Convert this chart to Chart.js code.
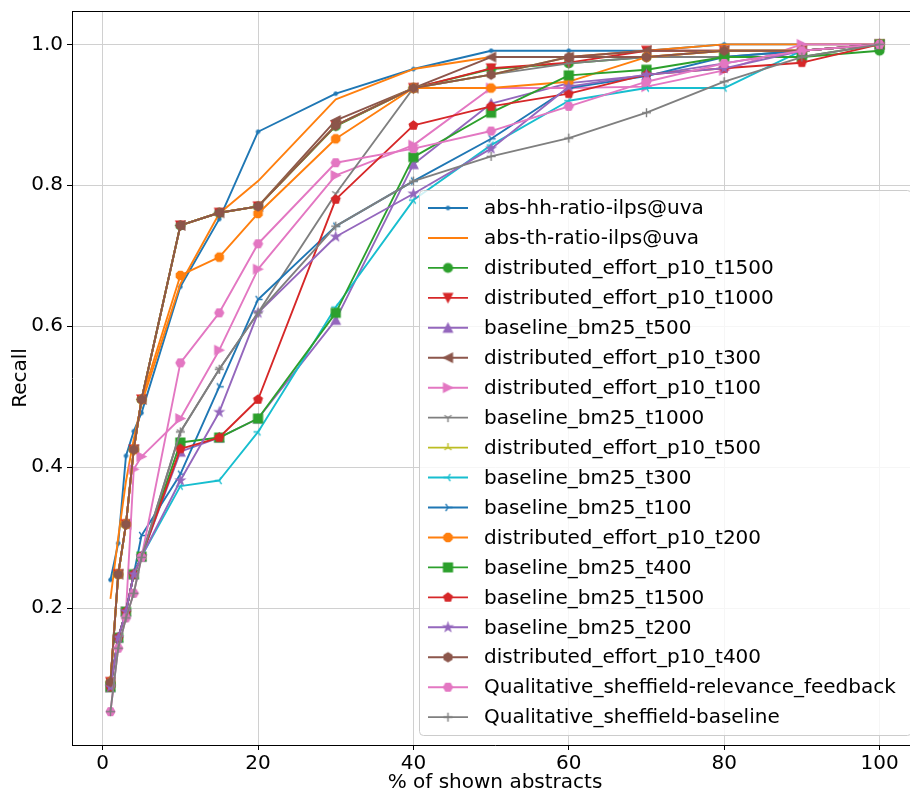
<!DOCTYPE html>
<html>
<head>
<meta charset="utf-8">
<script src="https://cdn.jsdelivr.net/npm/chart.js@4"></script>
<style>
  html, body { margin: 0; padding: 0; background: #fff; overflow: hidden; }
  canvas { display: block; }
</style>
</head>
<body>
<canvas id="recallChart" width="930" height="795"></canvas>
<script>
// % of shown abstracts (x) and recall per run
const shownPct = [1, 2, 3, 4, 5, 10, 15, 20, 30, 40, 50, 60, 70, 80, 90, 100];
const xTicks = [0, 20, 40, 60, 80, 100];
const yTicks = [0.2, 0.4, 0.6, 0.8, 1.0];

const absHhRatio = [0.240, 0.292, 0.416, 0.451, 0.477, 0.656, 0.752, 0.876, 0.930, 0.965, 0.991, 0.991, 0.991, 1.0, 1.0, 1.0];
const absThRatio = [0.213, 0.300, 0.380, 0.440, 0.490, 0.660, 0.760, 0.806, 0.922, 0.965, 0.982, 0.982, 0.991, 1.0, 1.0, 1.0];
const deT1500 = [0.095, 0.248, 0.319, 0.425, 0.496, 0.743, 0.761, 0.770, 0.884, 0.938, 0.965, 0.973, 0.982, 0.982, 0.982, 0.991];
const deT1000 = [0.095, 0.248, 0.319, 0.425, 0.496, 0.743, 0.761, 0.770, 0.885, 0.938, 0.966, 0.974, 0.991, 0.991, 0.991, 1.0];
const bmT500 = [0.088, 0.158, 0.195, 0.248, 0.273, 0.422, 0.442, 0.469, 0.609, 0.830, 0.916, 0.945, 0.956, 0.973, 0.991, 1.0];
const deT300 = [0.095, 0.248, 0.319, 0.425, 0.496, 0.743, 0.761, 0.770, 0.892, 0.938, 0.982, 0.982, 0.991, 0.991, 0.991, 1.0];
const deT100 = [0.088, 0.158, 0.195, 0.397, 0.415, 0.469, 0.566, 0.681, 0.814, 0.857, 0.938, 0.938, 0.940, 0.963, 1.0, 1.0];
const bmT1000 = [0.088, 0.158, 0.195, 0.248, 0.273, 0.450, 0.539, 0.619, 0.788, 0.938, 0.957, 0.973, 0.982, 0.982, 0.991, 1.0];
const deT500 = [0.095, 0.248, 0.319, 0.425, 0.496, 0.743, 0.761, 0.770, 0.885, 0.938, 0.957, 0.982, 0.982, 0.991, 0.991, 1.0];
const bmT300 = [0.088, 0.158, 0.195, 0.248, 0.273, 0.373, 0.381, 0.450, 0.627, 0.779, 0.857, 0.920, 0.938, 0.938, 0.991, 1.0];
const bmT100 = [0.088, 0.158, 0.195, 0.248, 0.303, 0.390, 0.514, 0.638, 0.742, 0.806, 0.866, 0.938, 0.955, 0.982, 0.991, 1.0];
const deT200 = [0.095, 0.248, 0.319, 0.425, 0.496, 0.672, 0.698, 0.760, 0.866, 0.938, 0.938, 0.947, 0.982, 0.991, 0.991, 1.0];
const bmT400 = [0.088, 0.158, 0.195, 0.248, 0.273, 0.435, 0.442, 0.469, 0.619, 0.840, 0.903, 0.956, 0.964, 0.982, 0.982, 1.0];
const bmT1500 = [0.088, 0.158, 0.195, 0.248, 0.273, 0.426, 0.442, 0.496, 0.780, 0.885, 0.912, 0.930, 0.957, 0.966, 0.974, 1.0];
const bmT200 = [0.088, 0.158, 0.195, 0.248, 0.273, 0.381, 0.478, 0.619, 0.727, 0.788, 0.852, 0.940, 0.957, 0.966, 0.991, 1.0];
const deT400 = [0.095, 0.248, 0.319, 0.425, 0.496, 0.743, 0.761, 0.770, 0.885, 0.938, 0.957, 0.982, 0.982, 0.991, 0.991, 1.0];
const sheffieldRf = [0.053, 0.143, 0.186, 0.221, 0.272, 0.548, 0.619, 0.717, 0.832, 0.852, 0.877, 0.912, 0.947, 0.973, 0.991, 1.0];
const sheffieldBase = [0.053, 0.143, 0.186, 0.221, 0.272, 0.450, 0.539, 0.619, 0.742, 0.806, 0.841, 0.867, 0.903, 0.947, 0.982, 1.0];

const runNames = [
  'abs-hh-ratio-ilps@uva', 'abs-th-ratio-ilps@uva', 'distributed_effort_p10_t1500',
  'distributed_effort_p10_t1000', 'baseline_bm25_t500', 'distributed_effort_p10_t300',
  'distributed_effort_p10_t100', 'baseline_bm25_t1000', 'distributed_effort_p10_t500',
  'baseline_bm25_t300', 'baseline_bm25_t100', 'distributed_effort_p10_t200',
  'baseline_bm25_t400', 'baseline_bm25_t1500', 'baseline_bm25_t200',
  'distributed_effort_p10_t400', 'Qualitative_sheffield-relevance_feedback', 'Qualitative_sheffield-baseline'
];
const runValues = [absHhRatio, absThRatio, deT1500, deT1000, bmT500, deT300, deT100, bmT1000, deT500,
  bmT300, bmT100, deT200, bmT400, bmT1500, bmT200, deT400, sheffieldRf, sheffieldBase];
const runMarkers = ['.', ',', 'o', 'v', '^', '<', '>', '1', '2', '3', '4', '8', 's', 'p', '*', 'h', 'H', '+'];
const palette = ['#1f77b4', '#ff7f0e', '#2ca02c', '#d62728', '#9467bd', '#8c564b', '#e377c2', '#7f7f7f', '#bcbd22', '#17becf'];

const FONT = "'DejaVu Sans', sans-serif";
const MS = 9;

// small canvases that look like matplotlib markers
function makeMarker(kind, color, m) {
  const s = Math.ceil(m + 6);
  const c = document.createElement('canvas');
  c.width = s; c.height = s;
  const g = c.getContext('2d');
  g.translate(s / 2, s / 2);
  g.fillStyle = color;
  g.strokeStyle = color;
  g.lineWidth = 1.2;
  g.lineJoin = 'miter';
  const r = m / 2;
  const poly = pts => {
    g.beginPath();
    pts.forEach(([x, y], i) => i ? g.lineTo(x * r, -y * r) : g.moveTo(x * r, -y * r));
    g.closePath(); g.fill(); g.stroke();
  };
  const regular = (n, rot) => {
    const p = [];
    for (let i = 0; i < n; i++) {
      const a = Math.PI / 2 + rot + 2 * Math.PI * i / n;
      p.push([Math.cos(a), Math.sin(a)]);
    }
    poly(p);
  };
  const lines = segs => {
    g.beginPath();
    segs.forEach(([x, y]) => { g.moveTo(0, 0); g.lineTo(x * r, -y * r); });
    g.lineWidth = 1.4; g.stroke();
  };
  switch (kind) {
    case '.': g.beginPath(); g.arc(0, 0, r / 2, 0, 2 * Math.PI); g.fill(); break;
    case 'o': g.beginPath(); g.arc(0, 0, r, 0, 2 * Math.PI); g.fill(); g.stroke(); break;
    case 'v': poly([[0, -1], [-1, 1], [1, 1]]); break;
    case '^': poly([[0, 1], [-1, -1], [1, -1]]); break;
    case '<': poly([[-1, 0], [1, -1], [1, 1]]); break;
    case '>': poly([[1, 0], [-1, -1], [-1, 1]]); break;
    case 's': poly([[-1, -1], [1, -1], [1, 1], [-1, 1]]); break;
    case 'p': regular(5, 0); break;
    case 'h': regular(6, 0); break;
    case 'H': regular(6, Math.PI / 6); break;
    case '8': regular(8, Math.PI / 8); break;
    case '*': {
      const p = [];
      for (let i = 0; i < 10; i++) {
        const a = Math.PI / 2 + Math.PI * i / 5;
        const rr = i % 2 ? 0.381966 : 1;
        p.push([rr * Math.cos(a), rr * Math.sin(a)]);
      }
      poly(p);
      break;
    }
    case '1': lines([[0, -1], [0.8, 0.5], [-0.8, 0.5]]); break;
    case '2': lines([[0, 1], [0.8, -0.5], [-0.8, -0.5]]); break;
    case '3': lines([[-1, 0], [0.5, -0.8], [0.5, 0.8]]); break;
    case '4': lines([[1, 0], [-0.5, -0.8], [-0.5, 0.8]]); break;
    case '+': lines([[1, 0], [-1, 0], [0, 1], [0, -1]]); break;
  }
  return c;
}

const datasets = runNames.map((name, i) => {
  const color = palette[i % 10];
  const kind = runMarkers[i];
  return {
    label: name,
    data: shownPct.map((x, j) => ({ x: x, y: runValues[i][j] })),
    borderColor: color,
    backgroundColor: color,
    borderWidth: 1.9,
    borderJoinStyle: 'round',
    tension: 0,
    pointStyle: kind === ',' ? 'circle' : makeMarker(kind, color, MS),
    pointRadius: kind === ',' ? 0 : 4,
    order: runNames.length - i
  };
});

const frameAndLegend = {
  id: 'frameAndLegend',
  afterDraw(chart) {
    const ctx = chart.ctx;
    const a = chart.chartArea;
    ctx.save();
    // top / right spines
    ctx.strokeStyle = '#000';
    ctx.lineWidth = 1;
    ctx.beginPath();
    ctx.moveTo(a.left, a.top + 0.5);
    ctx.lineTo(a.right, a.top + 0.5);
    ctx.moveTo(a.right - 0.5, a.top);
    ctx.lineTo(a.right - 0.5, a.bottom);
    ctx.stroke();

    // legend box
    const bx = 419.5, by = 190.5, bw = 492, bh = 545, rad = 4;
    ctx.beginPath();
    ctx.moveTo(bx + rad, by);
    ctx.arcTo(bx + bw, by, bx + bw, by + bh, rad);
    ctx.arcTo(bx + bw, by + bh, bx, by + bh, rad);
    ctx.arcTo(bx, by + bh, bx, by, rad);
    ctx.arcTo(bx, by, bx + bw, by, rad);
    ctx.closePath();
    ctx.fillStyle = 'rgba(255,255,255,0.8)';
    ctx.fill();
    ctx.strokeStyle = '#cccccc';
    ctx.stroke();

    ctx.font = '20px ' + FONT;
    ctx.textBaseline = 'middle';
    ctx.textAlign = 'left';
    chart.data.datasets.forEach((ds, i) => {
      const y = 208 + i * 29.95;
      ctx.strokeStyle = ds.borderColor;
      ctx.lineWidth = 1.9;
      ctx.beginPath();
      ctx.moveTo(428, y);
      ctx.lineTo(468, y);
      ctx.stroke();
      const st = ds.pointStyle;
      if (ds.pointRadius > 0 && typeof st === 'object') {
        ctx.drawImage(st, 448 - st.width / 2, y - st.height / 2);
      }
      ctx.fillStyle = '#000';
      ctx.fillText(ds.label, 484, y + 1);
    });
    ctx.restore();
  }
};

new Chart(document.getElementById('recallChart'), {
  type: 'line',
  data: { datasets: datasets },
  options: {
    responsive: false,
    animation: false,
    layout: { padding: { left: 0, right: 12, top: 11, bottom: 0 } },
    plugins: { legend: { display: false }, tooltip: { enabled: false } },
    scales: {
      x: {
        type: 'linear',
        min: -3.95,
        max: 104.95,
        afterFit: s => { s.height = 50; s.paddingLeft = 0; s.paddingRight = 0; },
        afterBuildTicks: s => { s.ticks = xTicks.map(v => ({ value: v })); },
        ticks: { font: { family: FONT, size: 20 }, color: '#000', padding: 2, maxRotation: 0,
          callback: v => String(v) },
        grid: { color: '#d0d0d0', lineWidth: 1, tickColor: '#000', tickLength: 5 },
        border: { color: '#000', width: 1 },
        title: { display: true, text: '% of shown abstracts', color: '#000',
          font: { family: FONT, size: 20 }, padding: { top: 0, bottom: 0 } }
      },
      y: {
        type: 'linear',
        min: 0.00565,
        max: 1.04735,
        afterFit: s => { s.width = 72; s.paddingTop = 0; s.paddingBottom = 0; },
        afterBuildTicks: s => { s.ticks = yTicks.map(v => ({ value: v })); },
        ticks: { font: { family: FONT, size: 20 }, color: '#000', padding: 4,
          callback: v => v.toFixed(1) },
        grid: { color: '#d0d0d0', lineWidth: 1, tickColor: '#000', tickLength: 5 },
        border: { color: '#000', width: 1 },
        title: { display: true, text: 'Recall', color: '#000',
          font: { family: FONT, size: 20 }, padding: { top: 9, bottom: 0 } }
      }
    }
  },
  plugins: [frameAndLegend]
});
</script>
</body>
</html>
